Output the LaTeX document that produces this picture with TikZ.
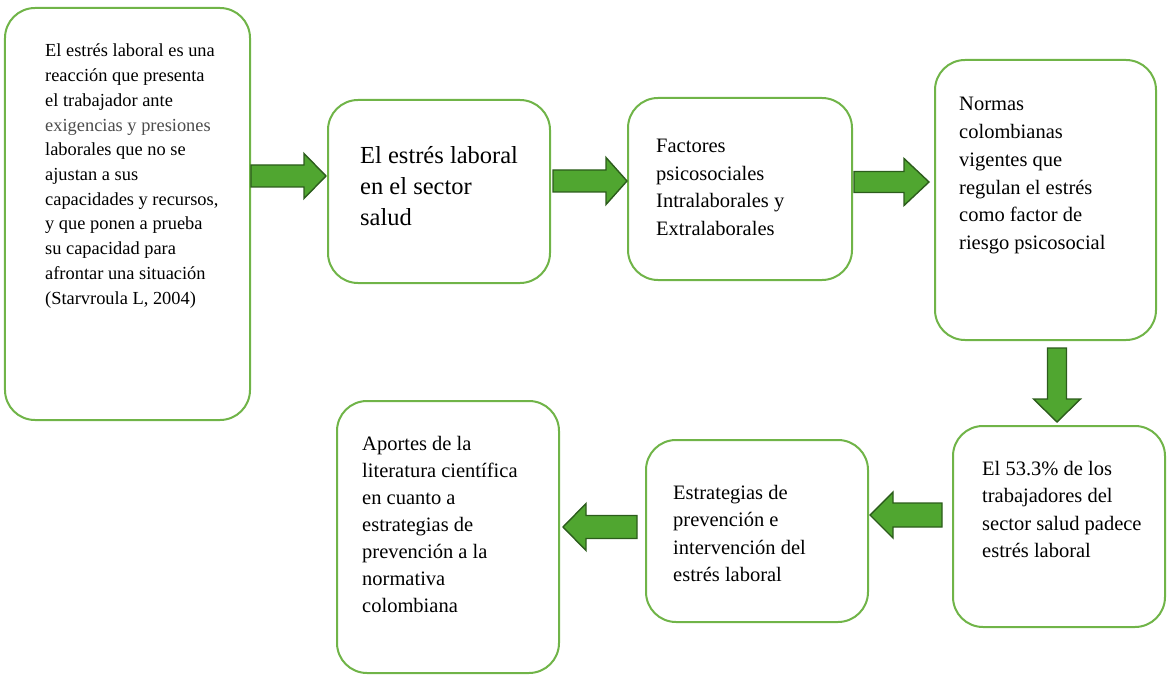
\documentclass[tikz,border=0pt]{standalone}
\usepackage{fontspec}
\setmainfont{Liberation Serif}
\usetikzlibrary{calc}
\definecolor{boxgreen}{RGB}{112,180,72}
\definecolor{arrfill}{RGB}{80,166,48}
\definecolor{arrline}{RGB}{44,92,28}
\newcommand\txtblock[1]{\parbox[t]{260bp}{\raggedright #1}}
\newcommand\rblock[5]{% tail, tip, head length, shaft half, head half
  \draw[blockarr] ($(#1)+(0,-#4)$) -- ($(#2)+(-#3,-#4)$) -- ($(#2)+(-#3,-#5)$) -- (#2)
    -- ($(#2)+(-#3,#5)$) -- ($(#2)+(-#3,#4)$) -- ($(#1)+(0,#4)$) -- cycle;}
\newcommand\lblock[5]{%
  \draw[blockarr] ($(#1)+(0,-#4)$) -- ($(#2)+(#3,-#4)$) -- ($(#2)+(#3,-#5)$) -- (#2)
    -- ($(#2)+(#3,#5)$) -- ($(#2)+(#3,#4)$) -- ($(#1)+(0,#4)$) -- cycle;}
\newcommand\dblock[5]{%
  \draw[blockarr] ($(#1)+(-#4,0)$) -- ($(#2)+(-#4,-#3)$) -- ($(#2)+(-#5,-#3)$) -- (#2)
    -- ($(#2)+(#5,-#3)$) -- ($(#2)+(#4,-#3)$) -- ($(#1)+(#4,0)$) -- cycle;}
\begin{document}
\begin{tikzpicture}[x=1bp,y=-1bp,
  box/.style={draw=boxgreen,line width=2bp,rounded corners=30bp,fill=white,inner sep=0pt},
  txt/.style={anchor=base west,inner sep=0pt,text=black},
  txtn/.style={txt,font=\fontsize{20.5bp}{27.5bp}\selectfont},
  blockarr/.style={fill=arrfill,draw=arrline,line width=1.4bp,line join=miter}]
\useasboundingbox (0,0) rectangle (1167,675);
% boxes
\node[box,minimum width=245bp,minimum height=412bp] (b1) at (127.5,214) {};
\node[box,minimum width=222bp,minimum height=183bp] (b2) at (439,191.5) {};
\node[box,minimum width=224bp,minimum height=182bp] (b3) at (740,189) {};
\node[box,minimum width=221bp,minimum height=280bp] (b4) at (1045.5,200) {};
\node[box,minimum width=212bp,minimum height=201bp] (b5) at (1059,526.5) {};
\node[box,minimum width=222bp,minimum height=182bp] (b6) at (757,531) {};
\node[box,minimum width=222bp,minimum height=272bp] (b7) at (448,537) {};
% texts
\node[txt,font=\fontsize{18.4bp}{24.7bp}\selectfont] (t1) at (45,57) {\txtblock{El estrés laboral es una\\reacción que presenta\\el trabajador ante\\\textcolor{black!70}{exigencias y presiones}\\laborales que no se\\ajustan a sus\\capacidades y recursos,\\y que ponen a prueba\\su capacidad para\\afrontar una situación\\(Starvroula L, 2004)}};
\node[txt,font=\fontsize{24.5bp}{31bp}\selectfont] (t2) at (360,164) {\txtblock{El estrés laboral\\en el sector\\salud}};
\node[txtn] (t3) at (656,153) {\txtblock{Factores\\psicosociales\\Intralaborales y\\Extralaborales}};
\node[txt,font=\fontsize{20.5bp}{27.7bp}\selectfont] (t4) at (959,111) {\txtblock{Normas\\colombianas\\vigentes que\\regulan el estrés\\como factor de\\riesgo psicosocial}};
\node[txtn] (t5) at (982,475) {\txtblock{El 53.3\% de los\\trabajadores del\\sector salud padece\\estrés laboral}};
\node[txtn] (t6) at (673,499) {\txtblock{Estrategias de\\prevención e\\intervención del\\estrés laboral}};
\node[txt,font=\fontsize{20.5bp}{27bp}\selectfont] (t7) at (362,450) {\txtblock{Aportes de la\\literatura científica\\en cuanto a\\estrategias de\\prevención a la\\normativa\\colombiana}};
% helper levels
\coordinate (h1) at (0,176);
\coordinate (h2) at (0,181);
\coordinate (h3) at (0,182);
\coordinate (h4) at (1057,0);
\coordinate (h5) at (0,515);
\coordinate (h6) at (0,527);
% connector end points
\coordinate (a1s) at (b1.east |- h1);
\coordinate (a1e) at ($(b2.west |- h1)+(-1,0)$);
\coordinate (a2s) at ($(b2.east |- h2)+(2,0)$);
\coordinate (a2e) at (b3.west |- h2);
\coordinate (a3s) at ($(b3.east |- h3)+(1,0)$);
\coordinate (a3e) at ($(b4.west |- h3)+(-5,0)$);
\coordinate (a4s) at ($(h4 |- b4.south)+(0,7)$);
\coordinate (a4e) at ($(h4 |- b5.north)+(0,-3)$);
\coordinate (a5s) at ($(b5.west |- h5)+(-10,0)$);
\coordinate (a5e) at ($(b6.east |- h5)+(1,0)$);
\coordinate (a6s) at ($(b6.west |- h6)+(-8,0)$);
\coordinate (a6e) at ($(b7.east |- h6)+(3,0)$);
% block arrows
\rblock{a1s}{a1e}{22}{11}{22.5}
\rblock{a2s}{a2e}{21}{11}{23.5}
\rblock{a3s}{a3e}{25}{10.5}{23.5}
\dblock{a4s}{a4e}{23}{9.5}{23.5}
\lblock{a5s}{a5e}{23}{12}{23}
\lblock{a6s}{a6e}{23}{11.5}{23.5}
\end{tikzpicture}
\end{document}
